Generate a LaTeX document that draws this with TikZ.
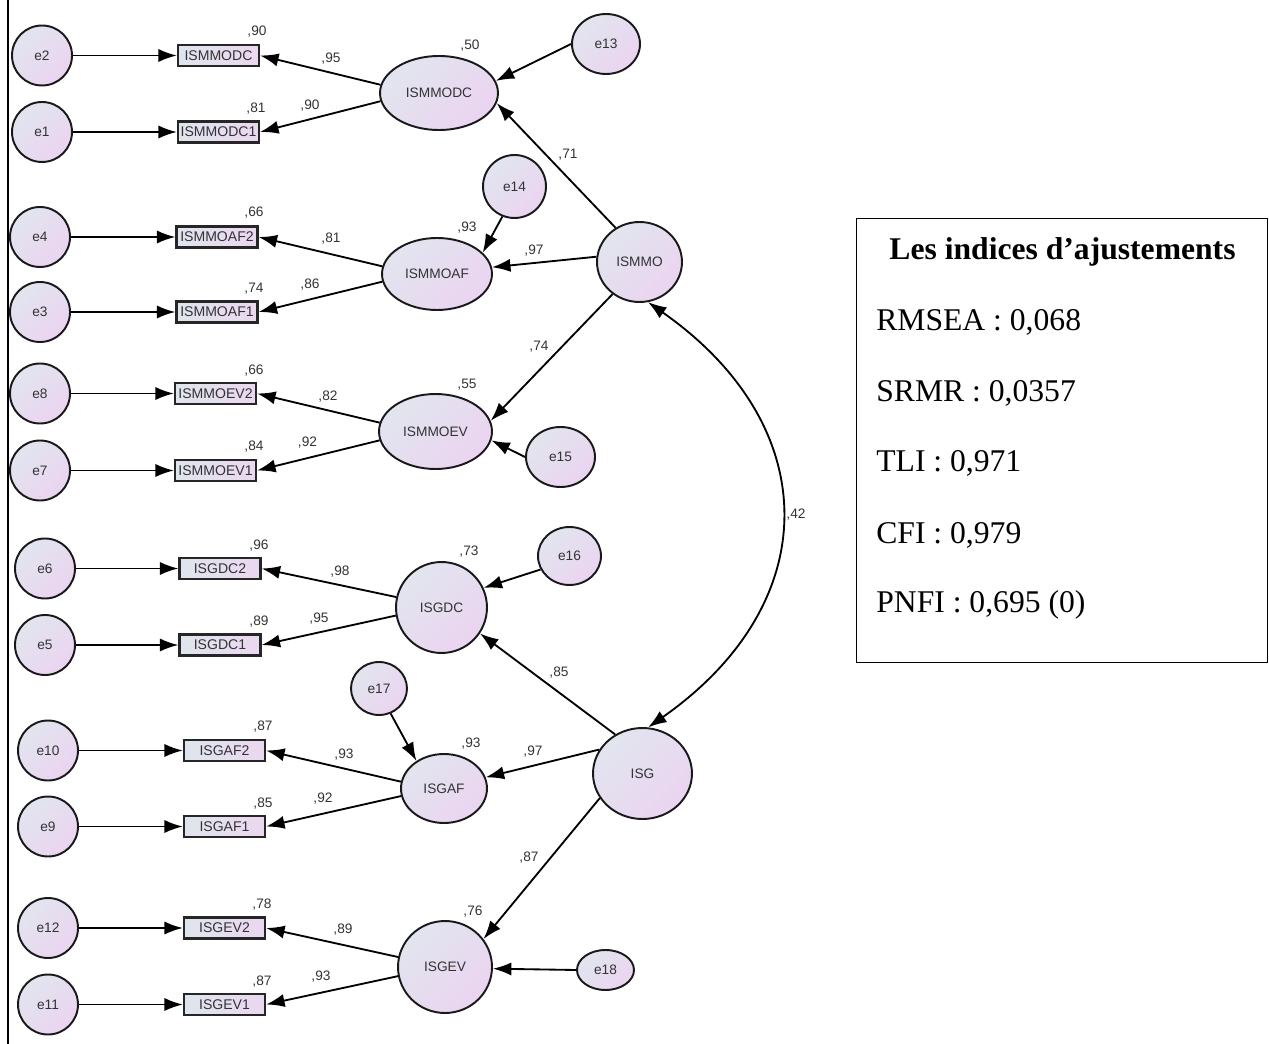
\documentclass[tikz,border=0pt]{standalone}
\usepackage{fontspec}
\setmainfont{Liberation Serif}
\newfontfamily\amosfont{Liberation Sans}
\usepackage{tikz}
\usetikzlibrary{shapes, arrows.meta, positioning}

\definecolor{ovaltop}{HTML}{E1E5EE}
\definecolor{ovalbot}{HTML}{EBD4F1}
\definecolor{boxleft}{HTML}{DFE5EC}
\definecolor{boxright}{HTML}{EBD7F0}
\definecolor{inkgray}{HTML}{333333}

\tikzstyle{oval} = [ellipse, inner sep=0pt, draw=black!90, line width=1.1pt, top color=ovaltop, bottom color=ovalbot, shading angle=45, text=inkgray, font=\amosfont\fontsize{7.8}{9}\selectfont]
\tikzstyle{err} = [oval, minimum width=1.2cm, minimum height=1.2cm]
\tikzstyle{obs} = [rectangle, inner sep=0pt, minimum width=1.62cm, minimum height=0.42cm, draw=black!85, line width=1.3pt, left color=boxleft, right color=boxright, text=inkgray, font=\amosfont\fontsize{8}{9}\selectfont]
\tikzstyle{coef} = [inner sep=0pt, text=inkgray, font=\amosfont\fontsize{7.8}{9}\selectfont]
\tikzstyle{arrow} = [-{Latex[length=10.5pt, width=7.5pt]}, line width=1.05pt]
\tikzstyle{biarrow} = [{Latex[length=10.5pt, width=7.5pt]}-{Latex[length=10.5pt, width=7.5pt]}, line width=1.05pt]
\tikzstyle{fitline} = [anchor=west, inner sep=0pt, font=\fontsize{18}{22}\selectfont]

\begin{document}
\begin{tikzpicture}[x=0.02cm, y=-0.02cm]

    \useasboundingbox (0, 0) rectangle (1269, 1044);

    \draw [line width=0.6pt] (8, 0) -- (8, 1044);

    % observed variables
    \node (vISMMODC) [obs] at (218.5, 55.5) {ISMMODC};
    \node (vISMMODC1) [obs] at (218.5, 132) {ISMMODC1};
    \node (vISMMOAF2) [obs] at (217, 237) {ISMMOAF2};
    \node (vISMMOAF1) [obs] at (217, 312) {ISMMOAF1};
    \node (vISMMOEV2) [obs] at (215.5, 393.5) {ISMMOEV2};
    \node (vISMMOEV1) [obs] at (215.5, 470.5) {ISMMOEV1};
    \node (vISGDC2) [obs] at (220, 568.5) {ISGDC2};
    \node (vISGDC1) [obs] at (220, 645) {ISGDC1};
    \node (vISGAF2) [obs] at (224.5, 750.5) {ISGAF2};
    \node (vISGAF1) [obs] at (224.5, 826.5) {ISGAF1};
    \node (vISGEV2) [obs] at (224.5, 928) {ISGEV2};
    \node (vISGEV1) [obs] at (224.5, 1004.5) {ISGEV1};

    % measurement errors
    \node (e2) [err] at (42, 55.5) {e2};
    \node (e1) [err] at (42, 132) {e1};
    \node (e4) [err] at (40, 237) {e4};
    \node (e3) [err] at (40, 312) {e3};
    \node (e8) [err] at (40, 393.5) {e8};
    \node (e7) [err] at (40, 470.5) {e7};
    \node (e6) [err] at (45, 568.5) {e6};
    \node (e5) [err] at (45, 645) {e5};
    \node (e10) [err] at (48, 750.5) {e10};
    \node (e9) [err] at (48, 826.5) {e9};
    \node (e12) [err] at (48, 928) {e12};
    \node (e11) [err] at (48, 1004.5) {e11};

    % latent variables
    \node (ISMMODC) [oval, minimum width=2.36cm, minimum height=1.48cm] at (439, 93) {ISMMODC};
    \node (ISMMOAF) [oval, minimum width=2.2cm, minimum height=1.44cm] at (437, 274) {ISMMOAF};
    \node (ISMMOEV) [oval, minimum width=2.26cm, minimum height=1.5cm] at (435.5, 431.5) {ISMMOEV};
    \node (ISGDC) [oval, minimum width=1.82cm, minimum height=1.82cm] at (441.5, 607.5) {ISGDC};
    \node (ISGAF) [oval, minimum width=1.72cm, minimum height=1.38cm] at (444, 788.5) {ISGAF};
    \node (ISGEV) [oval, minimum width=1.88cm, minimum height=1.84cm] at (445, 967) {ISGEV};
    \node (ISMMO) [oval, minimum width=1.7cm, minimum height=1.6cm] at (639.5, 262) {ISMMO};
    \node (ISG) [oval, minimum width=1.98cm, minimum height=1.82cm] at (642.5, 773.5) {ISG};

    % residuals
    \node (e13) [oval, minimum width=1.36cm, minimum height=1.2cm] at (606, 44) {e13};
    \node (e14) [oval, minimum width=1.26cm, minimum height=1.26cm] at (514.5, 186.5) {e14};
    \node (e15) [oval, minimum width=1.38cm, minimum height=1.2cm] at (560.5, 457) {e15};
    \node (e16) [oval, minimum width=1.26cm, minimum height=1.16cm] at (569.5, 556) {e16};
    \node (e17) [oval, minimum width=1.12cm, minimum height=1.06cm] at (379, 688.5) {e17};
    \node (e18) [oval, minimum width=1.14cm, minimum height=0.8cm] at (605.5, 970) {e18};

    \draw [arrow] (e2) -- (vISMMODC);
    \draw [arrow] (e1) -- (vISMMODC1);
    \draw [arrow] (e4) -- (vISMMOAF2);
    \draw [arrow] (e3) -- (vISMMOAF1);
    \draw [arrow] (e8) -- (vISMMOEV2);
    \draw [arrow] (e7) -- (vISMMOEV1);
    \draw [arrow] (e6) -- (vISGDC2);
    \draw [arrow] (e5) -- (vISGDC1);
    \draw [arrow] (e10) -- (vISGAF2);
    \draw [arrow] (e9) -- (vISGAF1);
    \draw [arrow] (e12) -- (vISGEV2);
    \draw [arrow] (e11) -- (vISGEV1);

    \draw [arrow] (ISMMODC.172) -- (vISMMODC.east);
    \draw [arrow] (ISMMODC.188) -- (vISMMODC1.east);
    \draw [arrow] (ISMMOAF.172) -- (vISMMOAF2.east);
    \draw [arrow] (ISMMOAF.188) -- (vISMMOAF1.east);
    \draw [arrow] (ISMMOEV.171) -- (vISMMOEV2.east);
    \draw [arrow] (ISMMOEV.189) -- (vISMMOEV1.east);
    \draw [arrow] (ISGDC.167) -- (vISGDC2.east);
    \draw [arrow] (ISGDC.190) -- (vISGDC1.east);
    \draw [arrow] (ISGAF.171) -- (vISGAF2.east);
    \draw [arrow] (ISGAF.190) -- (vISGAF1.east);
    \draw [arrow] (ISGEV.168) -- (vISGEV2.east);
    \draw [arrow] (ISGEV.191) -- (vISGEV1.east);

    \draw [arrow] (ISMMO.125) -- (ISMMODC.350);
    \draw [arrow] (ISMMO.173) -- (ISMMOAF.7);
    \draw [arrow] (ISMMO.230) -- (ISMMOEV.11);
    \draw [arrow] (ISG.125) -- (ISGDC.326);
    \draw [arrow] (ISG.151) -- (ISGAF.15);
    \draw [arrow] (ISG.210) -- (ISGEV.36);

    \draw [arrow] (e13.west) -- (ISMMODC.12);
    \draw [arrow] (e14.248) -- (ISMMOAF.25);
    \draw [arrow] (e15.west) -- (ISMMOEV.351);
    \draw [arrow] (e16.205) -- (ISGDC.25);
    \draw [arrow] (e17.295) -- (ISGAF.135);
    \draw [arrow] (e18.west) -- (ISGEV.358);

    \draw [biarrow] (ISMMO.282) .. controls +(177, 124) and +(177, -124) .. (ISG.83);

    % estimates
    \node (c1) [coef] at (257, 32) {,90};
    \node (c2) [coef] at (331, 59) {,95};
    \node (c3) [coef] at (256, 109) {,81};
    \node (c4) [coef] at (310, 106) {,90};
    \node (c5) [coef] at (470, 46) {,50};
    \node (c6) [coef] at (568, 155) {,71};
    \node (c7) [coef] at (467, 228) {,93};
    \node (c8) [coef] at (534, 251) {,97};
    \node (c9) [coef] at (254, 213) {,66};
    \node (c10) [coef] at (331, 239) {,81};
    \node (c11) [coef] at (254, 289) {,74};
    \node (c12) [coef] at (310, 285) {,86};
    \node (c13) [coef] at (539, 347) {,74};
    \node (c14) [coef] at (467, 385) {,55};
    \node (c15) [coef] at (254, 371) {,66};
    \node (c16) [coef] at (328, 397) {,82};
    \node (c17) [coef] at (254, 447) {,84};
    \node (c18) [coef] at (307.5, 443) {,92};
    \node (c19) [coef] at (796, 515) {,42};
    \node (c20) [coef] at (259, 546) {,96};
    \node (c21) [coef] at (340, 572) {,98};
    \node (c22) [coef] at (259, 622) {,89};
    \node (c23) [coef] at (319, 619) {,95};
    \node (c24) [coef] at (469, 552) {,73};
    \node (c25) [coef] at (559, 673) {,85};
    \node (c26) [coef] at (263, 727) {,87};
    \node (c27) [coef] at (344, 755) {,93};
    \node (c28) [coef] at (263, 804) {,85};
    \node (c29) [coef] at (323, 799) {,92};
    \node (c30) [coef] at (471, 744) {,93};
    \node (c31) [coef] at (533, 752) {,97};
    \node (c32) [coef] at (529, 858) {,87};
    \node (c33) [coef] at (473, 912) {,76};
    \node (c34) [coef] at (262, 905) {,78};
    \node (c35) [coef] at (343, 930) {,89};
    \node (c36) [coef] at (262, 982) {,87};
    \node (c37) [coef] at (321, 977) {,93};

    % fit indices
    \node (fitbox) [draw, line width=0.8pt, minimum width=8.22cm, minimum height=8.88cm] at (1062, 440.5) {};
    \node (fithead) [inner sep=0pt, font=\bfseries\fontsize{18}{22}\selectfont] at (1062.5, 252) {Les indices d’ajustements};
    \node (rmsea) [fitline] at (876, 322) {RMSEA : 0,068};
    \node (srmr) [fitline] at (876, 393) {SRMR : 0,0357};
    \node (tli) [fitline] at (876, 463) {TLI : 0,971};
    \node (cfi) [fitline] at (876, 535) {CFI : 0,979};
    \node (pnfi) [fitline] at (876, 605) {PNFI : 0,695 (0)};

\end{tikzpicture}
\end{document}
